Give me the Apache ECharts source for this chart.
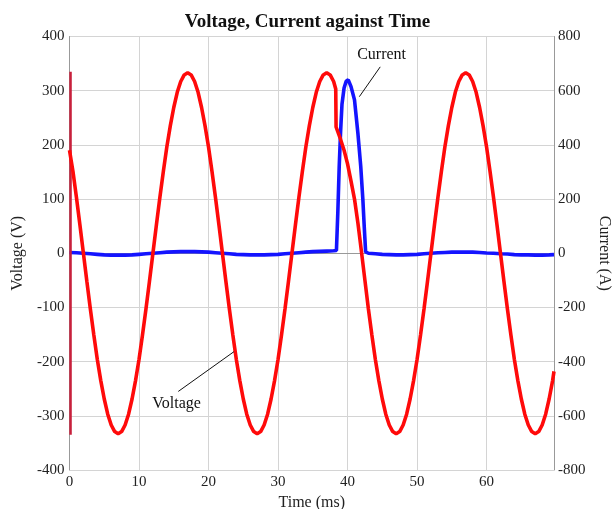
<!DOCTYPE html>
<html>
<head>
<meta charset="utf-8">
<script src="https://cdn.jsdelivr.net/npm/echarts@6/dist/echarts.min.js"></script>
<style>html,body{margin:0;padding:0;background:#fff}#c{width:615px;height:509px}</style>
</head>
<body>
<div id="c"></div>
<script>
// ---- data ----
var timeV = [0,0.5,1,1.5,2,2.5,3,3.5,4,4.5,5,5.5,6,6.5,7,7.5,8,8.5,9,9.5,10,10.5,11,11.5,12,
  12.5,13,13.5,14,14.5,15,15.5,16,16.5,17,17.5,18,18.5,19,19.5,20,20.5,21,21.5,22,
  22.5,23,23.5,24,24.5,25,25.5,26,26.5,27,27.5,28,28.5,29,29.5,30,30.5,31,31.5,32,
  32.5,33,33.5,34,34.5,35,35.5,36,36.5,37,37.5,38,38.3,38.35,39,39.5,40,40.5,41,41.5,42,
  42.5,43,43.5,44,44.5,45,45.5,46,46.5,47,47.5,48,48.5,49,49.5,50,50.5,51,51.5,52,
  52.5,53,53.5,54,54.5,55,55.5,56,56.5,57,57.5,58,58.5,59,59.5,60,60.5,61,61.5,62,
  62.5,63,63.5,64,64.5,65,65.5,66,66.5,67,67.5,68,68.5,69,69.5,69.7];
var voltage = [190,151,103,52,0,-52,-103,-151,-196,-235,-269,-297,-317,-329,-333,-329,-317,-297,-269,-235,-196,-151,-103,-52,0,
  52,103,151,196,235,269,297,317,329,333,329,317,297,269,235,196,151,103,52,0,
  -52,-103,-151,-196,-235,-269,-297,-317,-329,-333,-329,-317,-297,-269,-235,-196,-151,-103,-52,0,
  52,103,151,196,235,269,297,317,329,333,329,317,303,233,210,190,165,133,100,55,3,
  -50,-103,-151,-196,-235,-269,-297,-317,-329,-333,-329,-317,-297,-269,-235,-196,-151,-103,-52,0,
  52,103,151,196,235,269,297,317,329,333,329,317,297,269,235,196,151,103,52,0,
  -52,-103,-151,-196,-235,-269,-297,-317,-329,-333,-329,-317,-297,-269,-235,-218];
// initial transient at t≈0
var transientT = [0.15,0.15];
var transientV = [-335,335];

var timeI = [0,1,2,3,4,5,6,7,8,9,10,11,12,13,14,15,16,17,18,19,20,21,22,23,24,25,26,27,28,29,30,31,32,33,34,35,36,37,38,
  38.4,38.6,38.8,39.0,39.2,39.5,39.8,40.1,40.5,41.0,41.5,41.9,42.2,42.4,42.6,
  43,44,45,46,47,48,49,50,51,52,53,54,55,56,57,58,59,60,61,62,63,64,65,66,67,68,69,69.7];
var current = [3,2,0,-2,-4,-6,-7,-7,-7,-6,-4,-2,0,2,4,5,6,6,6,5,4,2,0,-2,-4,-5,-6,-6,-6,-5,-4,-2,0,2,4,6,7,8,9,
  10,150,320,450,550,610,635,640,615,566,440,320,200,98,5,
  0,-2,-4,-5,-6,-6,-5,-4,-2,0,2,3,4,4,4,4,3,1,0,-2,-3,-5,-6,-6,-7,-7,-6,-5];

var xTicks = {min:0, max:69.7, interval:10};
var vTicks = {min:-400, max:400, interval:100};
var iTicks = {min:-800, max:800, interval:200};

function zip(a,b){var r=[];for(var i=0;i<a.length;i++)r.push([a[i],b[i]]);return r;}

var serif = '"Liberation Serif","DejaVu Serif",serif';
var chart = echarts.init(document.getElementById('c'), null, {renderer:'canvas'});
chart.setOption({
  animation:false,
  backgroundColor:'#fff',
  title:{text:'Voltage, Current against Time',left:'center',top:8,
    textStyle:{fontFamily:serif,fontSize:19,fontWeight:'bold',color:'#111'}},
  grid:{left:69.5,right:61,top:36.5,bottom:39,containLabel:false,outerBoundsMode:'none'},
  xAxis:{type:'value',min:xTicks.min,max:xTicks.max,interval:xTicks.interval,
    name:'Time (ms)',nameLocation:'middle',nameGap:22,
    nameTextStyle:{fontFamily:serif,fontSize:16,color:'#222'},
    axisLine:{show:true,lineStyle:{color:'#999',width:1}},
    axisTick:{show:false},
    axisLabel:{fontFamily:serif,fontSize:15,color:'#222',margin:5,
      formatter:function(v){return (Math.abs(v%10)<1e-9)?String(v):'';}},
    splitLine:{show:true,lineStyle:{color:'#d4d4d4',width:1}}},
  yAxis:[
    {type:'value',min:vTicks.min,max:vTicks.max,interval:vTicks.interval,position:'left',
      name:'Voltage (V)',nameLocation:'middle',nameGap:40,nameRotate:90,
      nameTextStyle:{fontFamily:serif,fontSize:16,color:'#222'},
      axisLine:{show:true,lineStyle:{color:'#999',width:1}},
      axisTick:{show:false},
      axisLabel:{fontFamily:serif,fontSize:15,color:'#222',margin:5},
      splitLine:{show:true,lineStyle:{color:'#d4d4d4',width:1}}},
    {type:'value',min:iTicks.min,max:iTicks.max,interval:iTicks.interval,position:'right',
      name:'Current (A)',nameLocation:'middle',nameGap:38,nameRotate:-90,
      nameTextStyle:{fontFamily:serif,fontSize:16,color:'#222'},
      axisLine:{show:true,lineStyle:{color:'#999',width:1}},
      axisTick:{show:false},
      axisLabel:{fontFamily:serif,fontSize:15,color:'#222',margin:4},
      splitLine:{show:false}}
  ],
  series:[
    {name:'Current',type:'line',yAxisIndex:1,data:zip(timeI,current),showSymbol:false,
      lineStyle:{color:'#1414ff',width:3.6},itemStyle:{color:'#1414ff'},z:2,
      markLine:{silent:true,symbol:['none','none'],label:{show:false},
        lineStyle:{color:'#111',width:1,type:'solid'},
        data:[[{coord:[44.7,688]},{coord:[41.7,578]}]]},
      markPoint:{silent:true,symbol:'circle',symbolSize:0,
        label:{show:true,position:'inside',formatter:'Current',fontFamily:serif,fontSize:16,color:'#111'},
        data:[{coord:[44.9,732]}]}},
    {name:'Transient',type:'line',yAxisIndex:0,data:zip(transientT,transientV),showSymbol:false,
      lineStyle:{color:'#c8203c',width:2.5},z:3},
    {name:'Voltage',type:'line',yAxisIndex:0,data:zip(timeV,voltage),showSymbol:false,
      lineStyle:{color:'#ff0a0a',width:3.6},itemStyle:{color:'#ff0a0a'},z:4,
      markLine:{silent:true,symbol:['none','none'],label:{show:false},
        lineStyle:{color:'#111',width:1,type:'solid'},
        data:[[{coord:[15.65,-255]},{coord:[23.67,-181.5]}]]},
      markPoint:{silent:true,symbol:'circle',symbolSize:0,
        label:{show:true,position:'inside',formatter:'Voltage',fontFamily:serif,fontSize:16,color:'#111'},
        data:[{coord:[15.4,-277]}]}}
  ]
});
</script>
</body>
</html>
